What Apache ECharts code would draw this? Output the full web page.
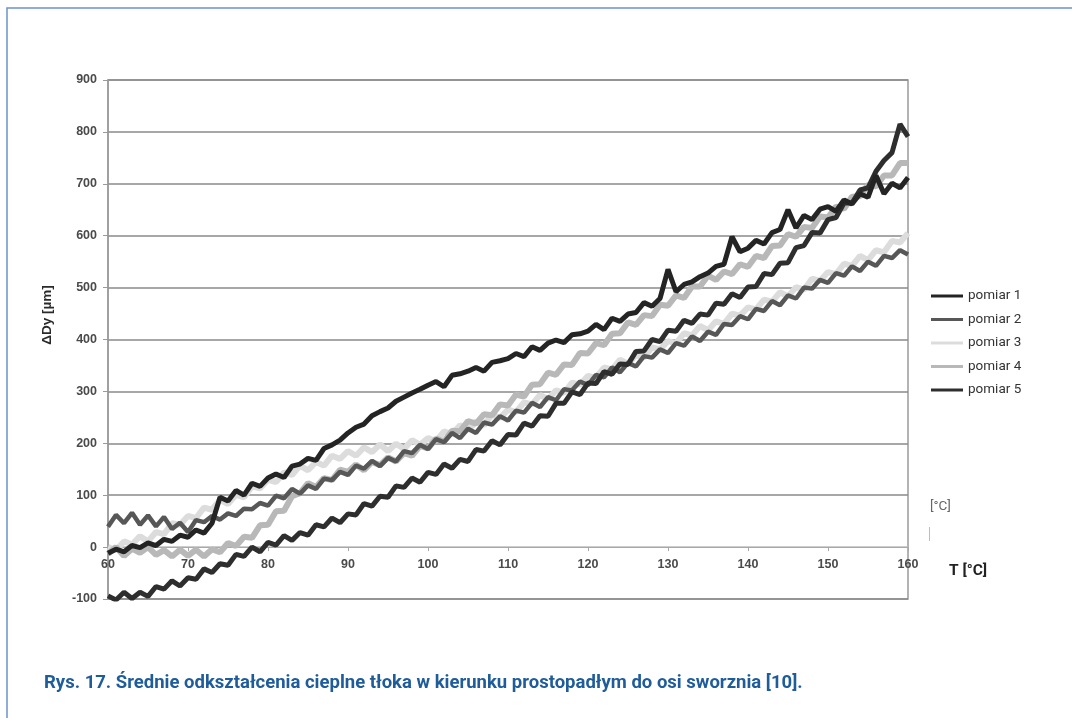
<!DOCTYPE html>
<html>
<head>
<meta charset="utf-8">
<script src="https://cdn.jsdelivr.net/npm/echarts@6/dist/echarts.min.js"></script>
<style>
  html, body { margin: 0; padding: 0; background: #ffffff; }
  #chart { width: 1072px; height: 718px; }
</style>
</head>
<body>
<div id="chart"></div>
<script>
// Temperature T [°C]
const temperature = [
  60, 61, 62, 63, 64, 65, 66, 67, 68, 69,
  70, 71, 72, 73, 74, 75, 76, 77, 78, 79,
  80, 81, 82, 83, 84, 85, 86, 87, 88, 89,
  90, 91, 92, 93, 94, 95, 96, 97, 98, 99,
  100, 101, 102, 103, 104, 105, 106, 107, 108, 109,
  110, 111, 112, 113, 114, 115, 116, 117, 118, 119,
  120, 121, 122, 123, 124, 125, 126, 127, 128, 129,
  130, 131, 132, 133, 134, 135, 136, 137, 138, 139,
  140, 141, 142, 143, 144, 145, 146, 147, 148, 149,
  150, 151, 152, 153, 154, 155, 156, 157, 158, 159,
  160
];

// ΔDy [µm] readings
const pomiar1 = [
  -12, -4, -9, 3, -1, 8, 3, 15, 11, 23,
  19, 33, 27, 46, 96, 89, 109, 100, 123, 117,
  133, 141, 134, 156, 160, 171, 167, 190, 197, 206,
  220, 231, 237, 253, 261, 268, 281, 289, 297, 304,
  312, 319, 309, 331, 334, 339, 346, 339, 356, 359,
  363, 373, 367, 386, 379, 393, 399, 394, 409, 411,
  416, 429, 419, 441, 435, 449, 452, 471, 464, 479,
  535, 492, 506, 511, 521, 528, 541, 545, 598, 569,
  576, 591, 584, 606, 612, 650, 615, 639, 631, 651,
  656, 647, 669, 661, 681, 674, 716, 681, 701, 692,
  712
];
const pomiar2 = [
  39, 62, 46, 66, 43, 61, 40, 58, 35, 47,
  29, 52, 48, 60, 53, 65, 60, 74, 73, 85,
  80, 99, 94, 112, 103, 119, 112, 132, 129, 145,
  139, 157, 151, 166, 156, 172, 165, 185, 181, 197,
  189, 208, 202, 220, 210, 228, 220, 240, 236, 252,
  244, 263, 259, 278, 270, 289, 283, 304, 302, 319,
  312, 332, 327, 346, 337, 355, 348, 368, 365, 381,
  374, 393, 388, 406, 397, 415, 409, 430, 428, 445,
  439, 459, 455, 474, 466, 485, 479, 500, 498, 515,
  509, 528, 523, 541, 532, 550, 542, 561, 557, 572,
  564
];
const pomiar3 = [
  0, -6, 11, 5, 21, 11, 29, 25, 46, 43,
  60, 56, 76, 72, 91, 83, 101, 96, 117, 113,
  130, 125, 144, 139, 157, 148, 164, 157, 176, 170,
  185, 176, 192, 183, 198, 185, 199, 189, 206, 197,
  210, 204, 223, 217, 235, 225, 242, 235, 255, 249,
  265, 260, 279, 275, 293, 285, 302, 297, 317, 313,
  330, 326, 346, 342, 361, 353, 370, 365, 385, 381,
  397, 393, 412, 408, 426, 418, 435, 430, 450, 446,
  462, 458, 477, 473, 491, 483, 501, 496, 517, 513,
  530, 526, 546, 542, 561, 553, 572, 568, 590, 587,
  605
];
const pomiar4 = [
  -13, 0, -17, -3, -11, 0, -15, -6, -18, -5,
  -17, -5, -18, -4, -10, 8, 2, 20, 18, 42,
  43, 69, 70, 98, 104, 123, 116, 133, 129, 149,
  145, 159, 148, 164, 158, 173, 165, 181, 176, 195,
  190, 209, 203, 224, 223, 243, 238, 256, 254, 275,
  273, 294, 290, 313, 314, 336, 332, 352, 351, 374,
  373, 393, 389, 411, 412, 433, 428, 447, 445, 467,
  465, 485, 480, 502, 502, 523, 515, 531, 526, 545,
  540, 561, 557, 580, 581, 603, 598, 617, 615, 637,
  635, 656, 652, 675, 676, 698, 695, 716, 716, 740,
  740
];
const pomiar5 = [
  -94, -102, -87, -99, -87, -95, -76, -81, -65, -75,
  -59, -62, -42, -49, -32, -35, -14, -18, 0, -9,
  9, 4, 22, 13, 28, 23, 43, 39, 56, 47,
  64, 62, 84, 79, 98, 96, 118, 115, 133, 125,
  144, 140, 160, 152, 169, 165, 188, 185, 205, 197,
  217, 216, 239, 233, 253, 252, 277, 277, 299, 294,
  316, 315, 338, 333, 353, 352, 377, 378, 400, 396,
  418, 416, 437, 431, 449, 447, 470, 468, 488, 481,
  501, 502, 527, 525, 547, 548, 577, 581, 606, 605,
  631, 635, 663, 663, 688, 692, 724, 745, 760, 815,
  791
];

const seriesNames = ['pomiar 1', 'pomiar 2', 'pomiar 3', 'pomiar 4', 'pomiar 5'];
const xTicks = { min: 60, max: 160, interval: 10 };
const yTicks = { min: -100, max: 900, interval: 100 };

function pairs(values) {
  return temperature.map((t, i) => [t, values[i]]);
}

const chart = echarts.init(document.getElementById('chart'), null, { renderer: 'canvas' });

function lineSeries(name, values, color, width, z) {
  return {
    name: name,
    type: 'line',
    data: pairs(values),
    showSymbol: false,
    symbol: 'none',
    smooth: false,
    z: z,
    lineStyle: { color: color, width: width, join: 'bevel' },
    itemStyle: { color: color },
    emphasis: { disabled: true }
  };
}

const labelFont = { fontFamily: 'Liberation Sans, Arial, sans-serif', fontWeight: 'bold', fontSize: 12.5, color: '#4a4a4a' };

const gridTop = 80, gridBottom = 119, plotHeight = 718 - gridTop - gridBottom;

const option = {
  animation: false,
  backgroundColor: '#ffffff',
  grid: {
    left: 108, right: 164, top: gridTop, bottom: gridBottom,
    show: true, borderColor: '#9a9a9a', borderWidth: 1.5, backgroundColor: 'transparent'
  },
  legend: {
    data: seriesNames,
    orient: 'vertical',
    left: 926,
    top: 284,
    icon: 'rect',
    itemWidth: 32,
    itemHeight: 3,
    itemGap: 9.5,
    textStyle: { fontFamily: 'Roboto, sans-serif', fontSize: 13.5, color: '#333333', lineHeight: 14 },
    selectedMode: false
  },
  xAxis: {
    type: 'value',
    min: xTicks.min, max: xTicks.max, interval: xTicks.interval,
    // axis crosses the value axis at 0
    offset: -plotHeight * (0 - yTicks.min) / (yTicks.max - yTicks.min),
    axisLine: { show: true, onZero: false, lineStyle: { color: '#a8a8a8', width: 1 } },
    axisTick: { show: true, length: 4, lineStyle: { color: '#a8a8a8' } },
    axisLabel: Object.assign({ margin: 11 }, labelFont),
    splitLine: { show: false }
  },
  yAxis: {
    type: 'value',
    min: yTicks.min, max: yTicks.max, interval: yTicks.interval,
    axisLine: { show: true, lineStyle: { color: '#9a9a9a', width: 1.5 } },
    axisTick: { show: true, length: 5, lineStyle: { color: '#9a9a9a' } },
    axisLabel: Object.assign({ margin: 11 }, labelFont),
    splitLine: {
      show: true,
      lineStyle: {
        color: ['#8a8a8a', '#bdbdbd', '#8a8a8a', '#8a8a8a', '#8a8a8a', '#8a8a8a', '#8a8a8a', '#8a8a8a', '#8a8a8a', '#8a8a8a', '#8a8a8a'],
        width: 1.5
      }
    }
  },
  series: [
    lineSeries('pomiar 3', pomiar3, '#dcdcdc', 6, 2),
    lineSeries('pomiar 4', pomiar4, '#b8b8b8', 6, 3),
    lineSeries('pomiar 2', pomiar2, '#575757', 4.5, 4),
    lineSeries('pomiar 5', pomiar5, '#2e2e2e', 5, 5),
    lineSeries('pomiar 1', pomiar1, '#242424', 5, 6)
  ],
  graphic: [
    {
      type: 'rect', silent: true, z: 100,
      shape: { x: 7, y: 8, width: 1300, height: 1000 },
      style: { fill: 'none', stroke: '#6b93c9', lineWidth: 1.5 }
    },
    {
      type: 'text', silent: true, x: 47, y: 315, rotation: Math.PI / 2,
      style: {
        text: 'ΔDy [µm]', fontFamily: 'Liberation Sans, Arial, sans-serif', fontWeight: 'bold', fontSize: 13.5,
        fill: '#2a2a2a', align: 'center', verticalAlign: 'middle'
      }
    },
    {
      type: 'text', silent: true, x: 949, y: 571,
      style: {
        text: 'T [°C]', fontFamily: 'Roboto, sans-serif', fontWeight: 'bold', fontSize: 15.5,
        fill: '#222222', align: 'left', verticalAlign: 'middle'
      }
    },
    {
      type: 'text', silent: true, x: 930, y: 507,
      style: {
        text: '[°C]', fontFamily: 'Roboto, sans-serif', fontSize: 13.5,
        fill: '#666666', align: 'left', verticalAlign: 'middle'
      }
    },
    {
      type: 'line', silent: true,
      shape: { x1: 929.5, y1: 527, x2: 929.5, y2: 541 },
      style: { stroke: '#bdbdbd', lineWidth: 1 }
    },
    {
      type: 'text', silent: true, x: 44, y: 683,
      style: {
        text: 'Rys. 17. Średnie odkształcenia cieplne tłoka w kierunku prostopadłym do osi sworznia [10].',
        fontFamily: 'Roboto, sans-serif', fontWeight: 'bold', fontSize: 18.5,
        fill: '#1f5c9a', align: 'left', verticalAlign: 'middle'
      }
    }
  ]
};

chart.setOption(option);
</script>
</body>
</html>
